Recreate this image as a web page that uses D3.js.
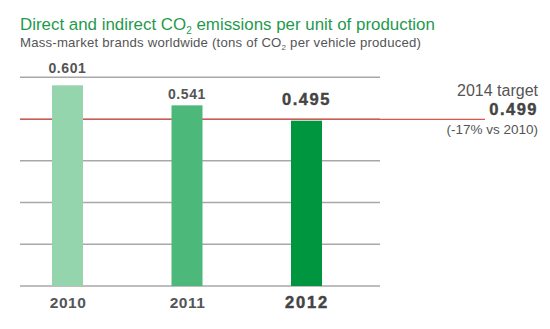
<!DOCTYPE html>
<html><head><meta charset="utf-8">
<script src="https://cdn.jsdelivr.net/npm/d3@7"></script>
<style>
html,body{margin:0;padding:0;background:#fff;}
svg{display:block;font-family:"Liberation Sans",Arial,Helvetica,sans-serif;}
</style></head>
<body><svg id="chart" width="550" height="329"></svg>
<script>
// ---- data ----
const years = ["2010", "2011", "2012"];
const emissions = [0.601, 0.541, 0.495];
const target2014 = 0.499;
const targetLabel = "2014 target";
const targetNote = "(-17% vs 2010)";
const gridTicks = [0, 0.125, 0.25, 0.375, 0.5, 0.625];
const barColors = ["#94d5ad", "#4cb87a", "#009640"];

const svg = d3.select("#chart");
const x = d3.scalePoint().domain(years).range([67.5, 306.5]);
const y = d3.scaleLinear().domain([0, 0.625]).range([286, 77.3]);
const barW = 31;
const gridX0 = 20, gridX1 = 380;

// title
const title = svg.append("text").attr("x", 20).attr("y", 30)
  .attr("fill", "#1f9a4d").attr("font-size", 16.9);
title.append("tspan").text("Direct and indirect CO");
title.append("tspan").attr("font-size", 10).attr("dy", 4).text("2");
title.append("tspan").attr("dy", -4).text(" emissions per unit of production");

const sub = svg.append("text").attr("x", 20).attr("y", 47.3)
  .attr("fill", "#555").attr("font-size", 13.2).attr("letter-spacing", 0.2);
sub.append("tspan").text("Mass-market brands worldwide (tons of CO");
sub.append("tspan").attr("font-size", 8).attr("dy", 3).text("2");
sub.append("tspan").attr("dy", -3).text(" per vehicle produced)");

// gridlines
svg.append("g").selectAll("line").data(gridTicks).join("line")
  .attr("x1", gridX0).attr("x2", gridX1)
  .attr("y1", d => y(d)).attr("y2", d => y(d))
  .attr("stroke", "#a8a8a8").attr("stroke-width", 1.4);

// target line
svg.append("line").attr("x1", gridX0).attr("x2", 485)
  .attr("y1", y(target2014)).attr("y2", y(target2014))
  .attr("stroke", "#e0524c").attr("stroke-width", 1.1);

// bars
svg.append("g").selectAll("rect").data(emissions).join("rect")
  .attr("x", (d, i) => x(years[i]) - barW / 2)
  .attr("width", barW)
  .attr("y", d => y(d))
  .attr("height", d => y(0) - y(d))
  .attr("fill", (d, i) => barColors[i]);

// value labels
const labelOffsets = [12, 6, 16];
svg.append("g").selectAll("text").data(emissions).join("text")
  .attr("x", (d, i) => x(years[i]))
  .attr("y", (d, i) => y(d) - labelOffsets[i])
  .attr("text-anchor", "middle")
  .attr("font-weight", "bold")
  .attr("font-size", (d, i) => i === 2 ? 16.5 : 14)
  .attr("letter-spacing", (d, i) => i === 2 ? 1.5 : 0.6)
  .attr("fill", (d, i) => i === 2 ? "#444" : "#555")
  .attr("stroke", (d, i) => i === 2 ? "#444" : "none")
  .attr("stroke-width", 0.4)
  .text(d => d3.format(".3f")(d));

// x axis labels
const xAxis = svg.append("g").attr("transform", "translate(0,307.5)")
  .call(d3.axisBottom(x).tickSize(0).tickPadding(0));
xAxis.select(".domain").remove();
xAxis.selectAll("text")
  .attr("font-family", "\"Liberation Sans\",Arial,sans-serif")
  .attr("dy", 0)
  .attr("font-size", (d, i) => i === 2 ? 16.5 : 15.5)
  .attr("font-weight", "bold")
  .attr("letter-spacing", (d, i) => i === 2 ? 1.8 : 0.5)
  .attr("fill", (d, i) => i === 2 ? "#444" : "#555")
  .attr("stroke", (d, i) => i === 2 ? "#444" : "none")
  .attr("stroke-width", 0.5);

// target annotation
const ax = 538;
svg.append("text").attr("x", ax).attr("y", 96).attr("text-anchor", "end")
  .attr("font-size", 16).attr("fill", "#555").text(targetLabel);
svg.append("text").attr("x", ax).attr("y", 115).attr("text-anchor", "end")
  .attr("font-size", 16.5).attr("font-weight", "bold").attr("letter-spacing", 1.5)
  .attr("fill", "#444").attr("stroke", "#444").attr("stroke-width", 0.4)
  .text(d3.format(".3f")(target2014));
svg.append("text").attr("x", ax).attr("y", 133.5).attr("text-anchor", "end")
  .attr("font-size", 13.5).attr("fill", "#555").text(targetNote);
</script></body></html>
